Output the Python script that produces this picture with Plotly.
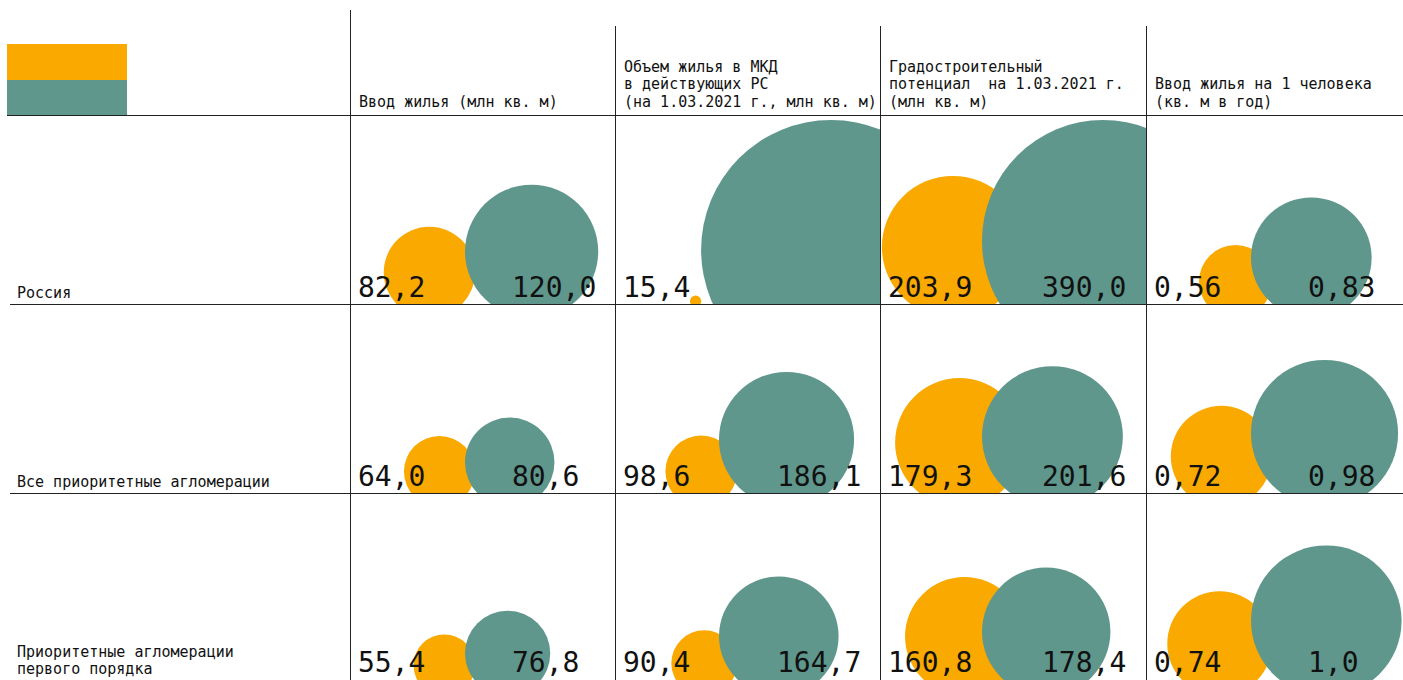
import plotly.graph_objects as go

# ---------------- data ----------------
row_labels = [["Россия"],
              ["Все приоритетные агломерации"],
              ["Приоритетные агломерации", "первого порядка"]]

col_headers = [["Ввод жилья (млн кв. м)"],
               ["Объем жилья в МКД", "в действующих РС", "(на 1.03.2021 г., млн кв. м)"],
               ["Градостроительный", "потенциал  на 1.03.2021 г.", "(млн кв. м)"],
               ["Ввод жилья на 1 человека", "(кв. м в год)"]]

# orange series / teal series, one list per column, rows in order
vvod_orange = [82.2, 64.0, 55.4]
vvod_teal = [120.0, 80.6, 76.8]
mkd_orange = [15.4, 98.6, 90.4]
mkd_teal = [358.0, 186.1, 164.7]        # Russia value is not labelled in the source
potential_orange = [203.9, 179.3, 160.8]
potential_teal = [390.0, 201.6, 178.4]
per_capita_orange = [0.56, 0.72, 0.74]
per_capita_teal = [0.83, 0.98, 1.0]

orange_cols = [vvod_orange, mkd_orange, potential_orange, per_capita_orange]
teal_cols = [vvod_teal, mkd_teal, potential_teal, per_capita_teal]
unlabelled = {("teal", 0, 1)}  # (series, row, col)

# ---------------- style / layout ----------------
W, H = 1403, 680
ORANGE = "#F9A900"
TEAL = "#5F978C"
LINE = "#222222"
TXT = "#111111"
FONT = "DejaVu Sans Mono"
SMALL = 15
BIG = 28
PITCH = 17.5

col_x = [350, 615, 880, 1146, 1403]
row_y = [115, 304, 493, 682]

# radius scale per column: r = slope * value + intercept (px)
r_slope = [0.555, 0.363, 0.268, 88.2]
r_icpt = [0.0, 0.0, 16.4, -12.9]
# horizontal packing per column
teal_left_off = [115, 104, 102, 105]
overlap = [10, 18, 42, 21]
max_right_off = 346
sink = 14

def fmt(v):
    s = f"{v:.2f}"
    if s.endswith("0"):
        s = s[:-1]
    return s.replace(".", ",")

def px(x):
    return x / W

def py(y):
    return 1 - y / H

fig = go.Figure()
layout_axes = {}
annotations = []
shapes = []

k = 0
for ri in range(3):
    line_y = row_y[ri + 1]
    top_y = row_y[ri]
    dom_bottom = min(line_y, H)
    for ci in range(4):
        k += 1
        left = col_x[ci]
        right = col_x[ci + 1]
        vo = orange_cols[ci][ri]
        vt = teal_cols[ci][ri]
        ro = r_slope[ci] * vo + r_icpt[ci]
        rt = r_slope[ci] * vt + r_icpt[ci]
        tl = left + teal_left_off[ci]
        shift = max(0.0, tl + 2 * rt - (left + max_right_off))
        tl -= shift
        cxt = tl + rt
        cxo = tl + overlap[ci] - shift - ro
        cys = []
        for r in (ro, rt):
            cy = line_y + min(sink, 0.5 * r) - r
            if cy - r < top_y + 5:
                cy = top_y + 5 + r
            cys.append(cy)
        xa = "x" if k == 1 else f"x{k}"
        ya = "y" if k == 1 else f"y{k}"
        for r, cx, cy, col in ((ro, cxo, cys[0], ORANGE), (rt, cxt, cys[1], TEAL)):
            fig.add_trace(go.Scatter(
                x=[cx - left], y=[line_y - cy], mode="markers",
                marker=dict(size=2 * r, color=col, line=dict(width=0), opacity=1),
                xaxis=xa, yaxis=ya, cliponaxis=True, hoverinfo="skip",
                showlegend=False))
        layout_axes["xaxis" if k == 1 else f"xaxis{k}"] = dict(
            domain=[px(left), px(right)], range=[0, right - left], visible=False,
            fixedrange=True, anchor=ya)
        layout_axes["yaxis" if k == 1 else f"yaxis{k}"] = dict(
            domain=[py(dom_bottom), py(top_y)],
            range=[line_y - dom_bottom, line_y - top_y], visible=False,
            fixedrange=True, anchor=xa)
        # value labels
        label_bottom = min(line_y + 1, H)
        for series, v, xoff in (("orange", vo, 7), ("teal", vt, 161)):
            if (series, ri, ci) in unlabelled:
                continue
            annotations.append(dict(
                x=px(left + xoff), y=py(label_bottom), xref="paper", yref="paper",
                xanchor="left", yanchor="bottom", showarrow=False, borderpad=0,
                text=fmt(v), font=dict(family=FONT, size=BIG, color=TXT)))

# row labels
for ri, lines in enumerate(row_labels):
    base = min(row_y[ri + 1] - 1, H - 1)
    n = len(lines)
    for li, t in enumerate(lines):
        annotations.append(dict(
            x=px(16), y=py(base - (n - 1 - li) * PITCH), xref="paper", yref="paper",
            xanchor="left", yanchor="bottom", showarrow=False, text=t, borderpad=0,
            font=dict(family=FONT, size=SMALL, color=TXT)))

# column headers
for ci, lines in enumerate(col_headers):
    n = len(lines)
    for li, t in enumerate(lines):
        annotations.append(dict(
            x=px(col_x[ci] + 8), y=py(112 - (n - 1 - li) * PITCH), xref="paper", yref="paper",
            xanchor="left", yanchor="bottom", showarrow=False, text=t, borderpad=0,
            font=dict(family=FONT, size=SMALL, color=TXT)))

# legend swatches
shapes.append(dict(type="rect", xref="paper", yref="paper", x0=px(7), x1=px(127),
                   y0=py(80), y1=py(44), fillcolor=ORANGE, line=dict(width=0), layer="below"))
shapes.append(dict(type="rect", xref="paper", yref="paper", x0=px(7), x1=px(127),
                   y0=py(115), y1=py(80), fillcolor=TEAL, line=dict(width=0), layer="below"))

# grid lines
def hline(y, x0, x1):
    shapes.append(dict(type="line", xref="paper", yref="paper", x0=px(x0), x1=px(x1),
                       y0=py(y + 0.5), y1=py(y + 0.5), line=dict(color=LINE, width=1)))

def vline(x, y0, y1):
    shapes.append(dict(type="line", xref="paper", yref="paper", x0=px(x + 0.5), x1=px(x + 0.5),
                       y0=py(y0), y1=py(y1), line=dict(color=LINE, width=1)))

hline(115, 7, 1403)
hline(304, 10, 1403)
hline(493, 10, 1403)
vline(350, 10, 680)
for x in col_x[1:4]:
    vline(x, 26, 680)

fig.update_layout(
    width=W, height=H, margin=dict(l=0, r=0, t=0, b=0),
    paper_bgcolor="white", plot_bgcolor="rgba(0,0,0,0)",
    showlegend=False, annotations=annotations, shapes=shapes, **layout_axes)

fig.write_html("out.html", config={"displayModeBar": False})
